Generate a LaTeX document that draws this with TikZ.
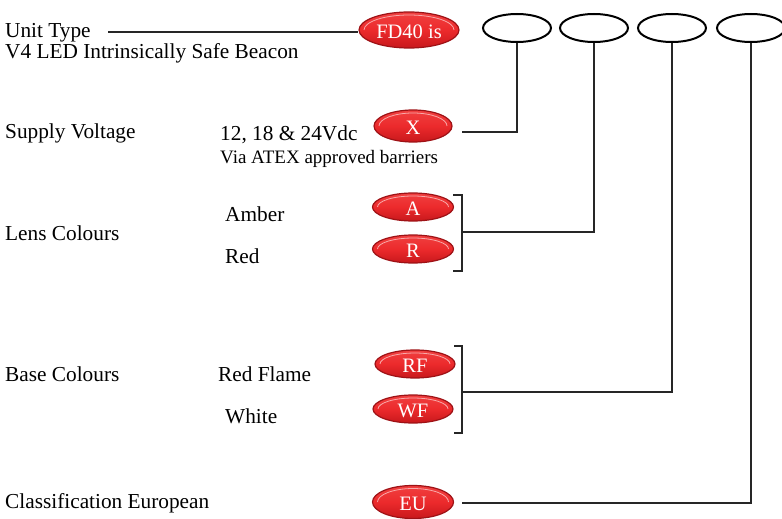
\documentclass[tikz,border=0pt]{standalone}
\usepackage{fontspec}
\setmainfont{Liberation Serif}
\usetikzlibrary{shapes.geometric,calc}
\definecolor{pillred}{HTML}{EC2A2C}
\definecolor{pilltop}{HTML}{F04040}
\definecolor{pillbot}{HTML}{C8181C}
\definecolor{pilledge}{HTML}{9E1216}
\definecolor{pilllight}{HTML}{F8A8A8}
\tikzset{
  pill/.style={ellipse, draw=pilledge, line width=1.2pt, top color=pilltop, bottom color=pillbot,
    middle color=pillred, text=white, text height=17pt, text depth=0pt,
    inner sep=0pt, minimum width=#1, font=\fontsize{20.5}{22}\selectfont,
    path picture={\draw[pilllight, line width=0.8pt]
      let \p1=($(path picture bounding box.north east)-(path picture bounding box.south west)$) in
      ([xshift=-0.5*\x1+5pt]path picture bounding box.center)
      arc[start angle=180, end angle=0, x radius=0.5*\x1-5pt, y radius=0.5*\y1-3pt];}},
  pill/.default=80pt,
  slot/.style={ellipse, draw=black, line width=2pt, minimum width=68pt, minimum height=28pt, inner sep=0pt},
  lbl/.style={anchor=base west, inner sep=0pt, font=\fontsize{21.3}{23}\selectfont},
  small/.style={anchor=base west, inner sep=0pt, font=\fontsize{19}{21}\selectfont},
  conn/.style={line width=1.3pt, black!85},
}
\begin{document}
\begin{tikzpicture}[x=1pt,y=-1pt]
\useasboundingbox (0,0) rectangle (782,519);
% texts
\node[lbl] (ut) at (5,38) {Unit Type};
\node[lbl] (v4) at (5,59) {V4 LED Intrinsically Safe Beacon};
\node[lbl] (sv) at (5,138) {Supply Voltage};
\node[lbl] (vd) at (220,140) {12, 18 \& 24Vdc};
\node[small] (via) at (220,163) {Via ATEX approved barriers};
\node[lbl] (lc) at (5,240) {Lens Colours};
\node[lbl] (am) at (225,221) {Amber};
\node[lbl] (rd) at (225,263) {Red};
\node[lbl] (bc) at (5,381) {Base Colours};
\node[lbl] (rfl) at (218,381) {Red Flame};
\node[lbl] (wh) at (225,423) {White};
\node[lbl] (ce) at (5,508) {Classification European};
% pills
\node[pill=100pt, minimum height=36pt] (fd) at (409,30) {FD40 is};
\node[pill=78pt, minimum height=32pt] (x) at (413,126) {X};
\node[pill=81pt, minimum height=28pt] (a) at (413,207) {A};
\node[pill=81pt, minimum height=28pt] (r) at (413,249) {R};
\node[pill=80pt, minimum height=28pt] (rf) at (415,364) {RF};
\node[pill=80pt, minimum height=28pt] (wf) at (413,409) {WF};
\node[pill=81pt, minimum height=33pt] (eu) at (413,502) {EU};
% slots
\node[slot] (s1) at (517,28) {};
\node[slot] (s2) at (594,28) {};
\node[slot] (s3) at (672,28) {};
\node[slot] (s4) at (751,28) {};
% connectors
\coordinate (utend) at (108,32);
\draw[conn] (utend) -- (fd.west |- utend);
% X
\coordinate (xs) at (462,132);
\draw[conn] (xs) -- (s1.south |- xs) -- (s1.south);
% lens bracket
\coordinate (b1t) at (462,195);
\coordinate (b1b) at (462,271);
\coordinate (b1m) at (462,232);
\draw[conn] (453,195) -- (b1t) -- (b1b) -- (453,271);
\draw[conn] (b1m) -- (s2.south |- b1m) -- (s2.south);
% base bracket
\coordinate (b2t) at (462,346);
\coordinate (b2b) at (462,433);
\coordinate (b2m) at (462,392);
\draw[conn] (454,346) -- (b2t) -- (b2b) -- (454,433);
\draw[conn] (b2m) -- (s3.south |- b2m) -- (s3.south);
% EU
\coordinate (euj) at (462,503);
\draw[conn] (euj) -- (s4.south |- euj) -- (s4.south);
\end{tikzpicture}
\end{document}
